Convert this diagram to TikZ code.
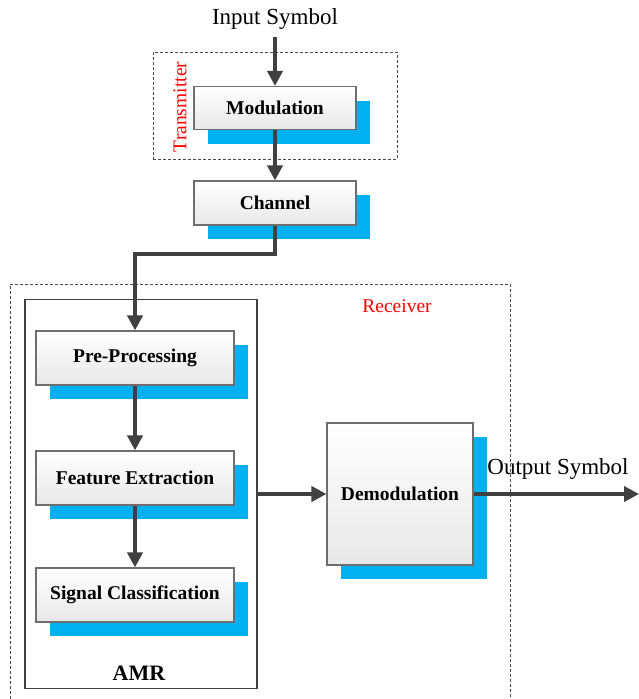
\documentclass[tikz,border=0pt]{standalone}
\usepackage{fontspec}
\setmainfont{Liberation Serif}
\usetikzlibrary{arrows.meta,positioning,shadows}
\definecolor{arrowgray}{HTML}{404040}
\definecolor{edgegray}{HTML}{6E6E6E}
\definecolor{shadowblue}{HTML}{00B0F0}

\begin{document}
\begin{tikzpicture}[x=1pt, y=-1pt,
  blk/.style={rectangle, draw=edgegray, line width=1.1pt, top color=white, bottom color=black!9,
    font=\fontsize{19.5}{21}\selectfont\bfseries, align=center,
    drop shadow={shadow xshift=14pt, shadow yshift=-14pt, fill=shadowblue, opacity=1}},
  dbox/.style={draw=black!70, dash pattern=on 3pt off 2pt, line width=0.8pt},
  arr/.style={-{Triangle[length=15pt, width=15pt]}, line width=4pt, arrowgray},
  lbl/.style={font=\fontsize{23}{25}\selectfont},
  tag/.style={font=\fontsize{19.5}{21}\selectfont, text=red}
]
  \useasboundingbox (0,0) rectangle (639,699);
  % transmitter side
  \node[lbl, inner sep=7pt] (in) at (275,19) {Input Symbol};
  \node[dbox, minimum width=244, minimum height=107] (tx) at (275,105.5) {};
  \node[tag, rotate=90] (txlbl) at (180,107) {Transmitter};
  \node[blk, minimum width=162, minimum height=43] (mod) at (275,108) {Modulation};
  \node[blk, minimum width=162, minimum height=44] (chan) at (275,203) {Channel};
  % receiver side
  \draw[dbox] (10,699) |- (510,284) -- (510,699);
  \node[tag] (rxlbl) at (397,306) {Receiver};
  \node[draw=arrowgray, line width=1.2pt, minimum width=232, minimum height=389] (amr) at (141,494) {};
  \node[font=\fontsize{22}{24}\selectfont\bfseries] (amrlbl) at (139,673) {AMR};
  \node[blk, minimum width=198, minimum height=54] (pre) at (135,358) {Pre-Processing};
  \node[blk, minimum width=198, minimum height=54] (feat) at (135,478) {Feature Extraction};
  \node[blk, minimum width=198, minimum height=54] (cls) at (135,595) {Signal Classification};
  \node[blk, minimum width=146, minimum height=142] (demod) at (400,494) {Demodulation};
  \node[lbl] (outlbl) at (558,469) {Output Symbol};
  \coordinate (out) at (639,494);
  % connectors
  \draw[arr] (in.south) -- (mod.north);
  \draw[arr] (mod) -- (chan);
  \draw[arr] (chan.south) -- ++(0,28) -| (pre.north);
  \draw[arr] (pre) -- (feat);
  \draw[arr] (feat) -- (cls);
  \draw[arr] (amr.east) -- (demod.west);
  \draw[arr] (demod.east) -- (out);
\end{tikzpicture}
\end{document}
